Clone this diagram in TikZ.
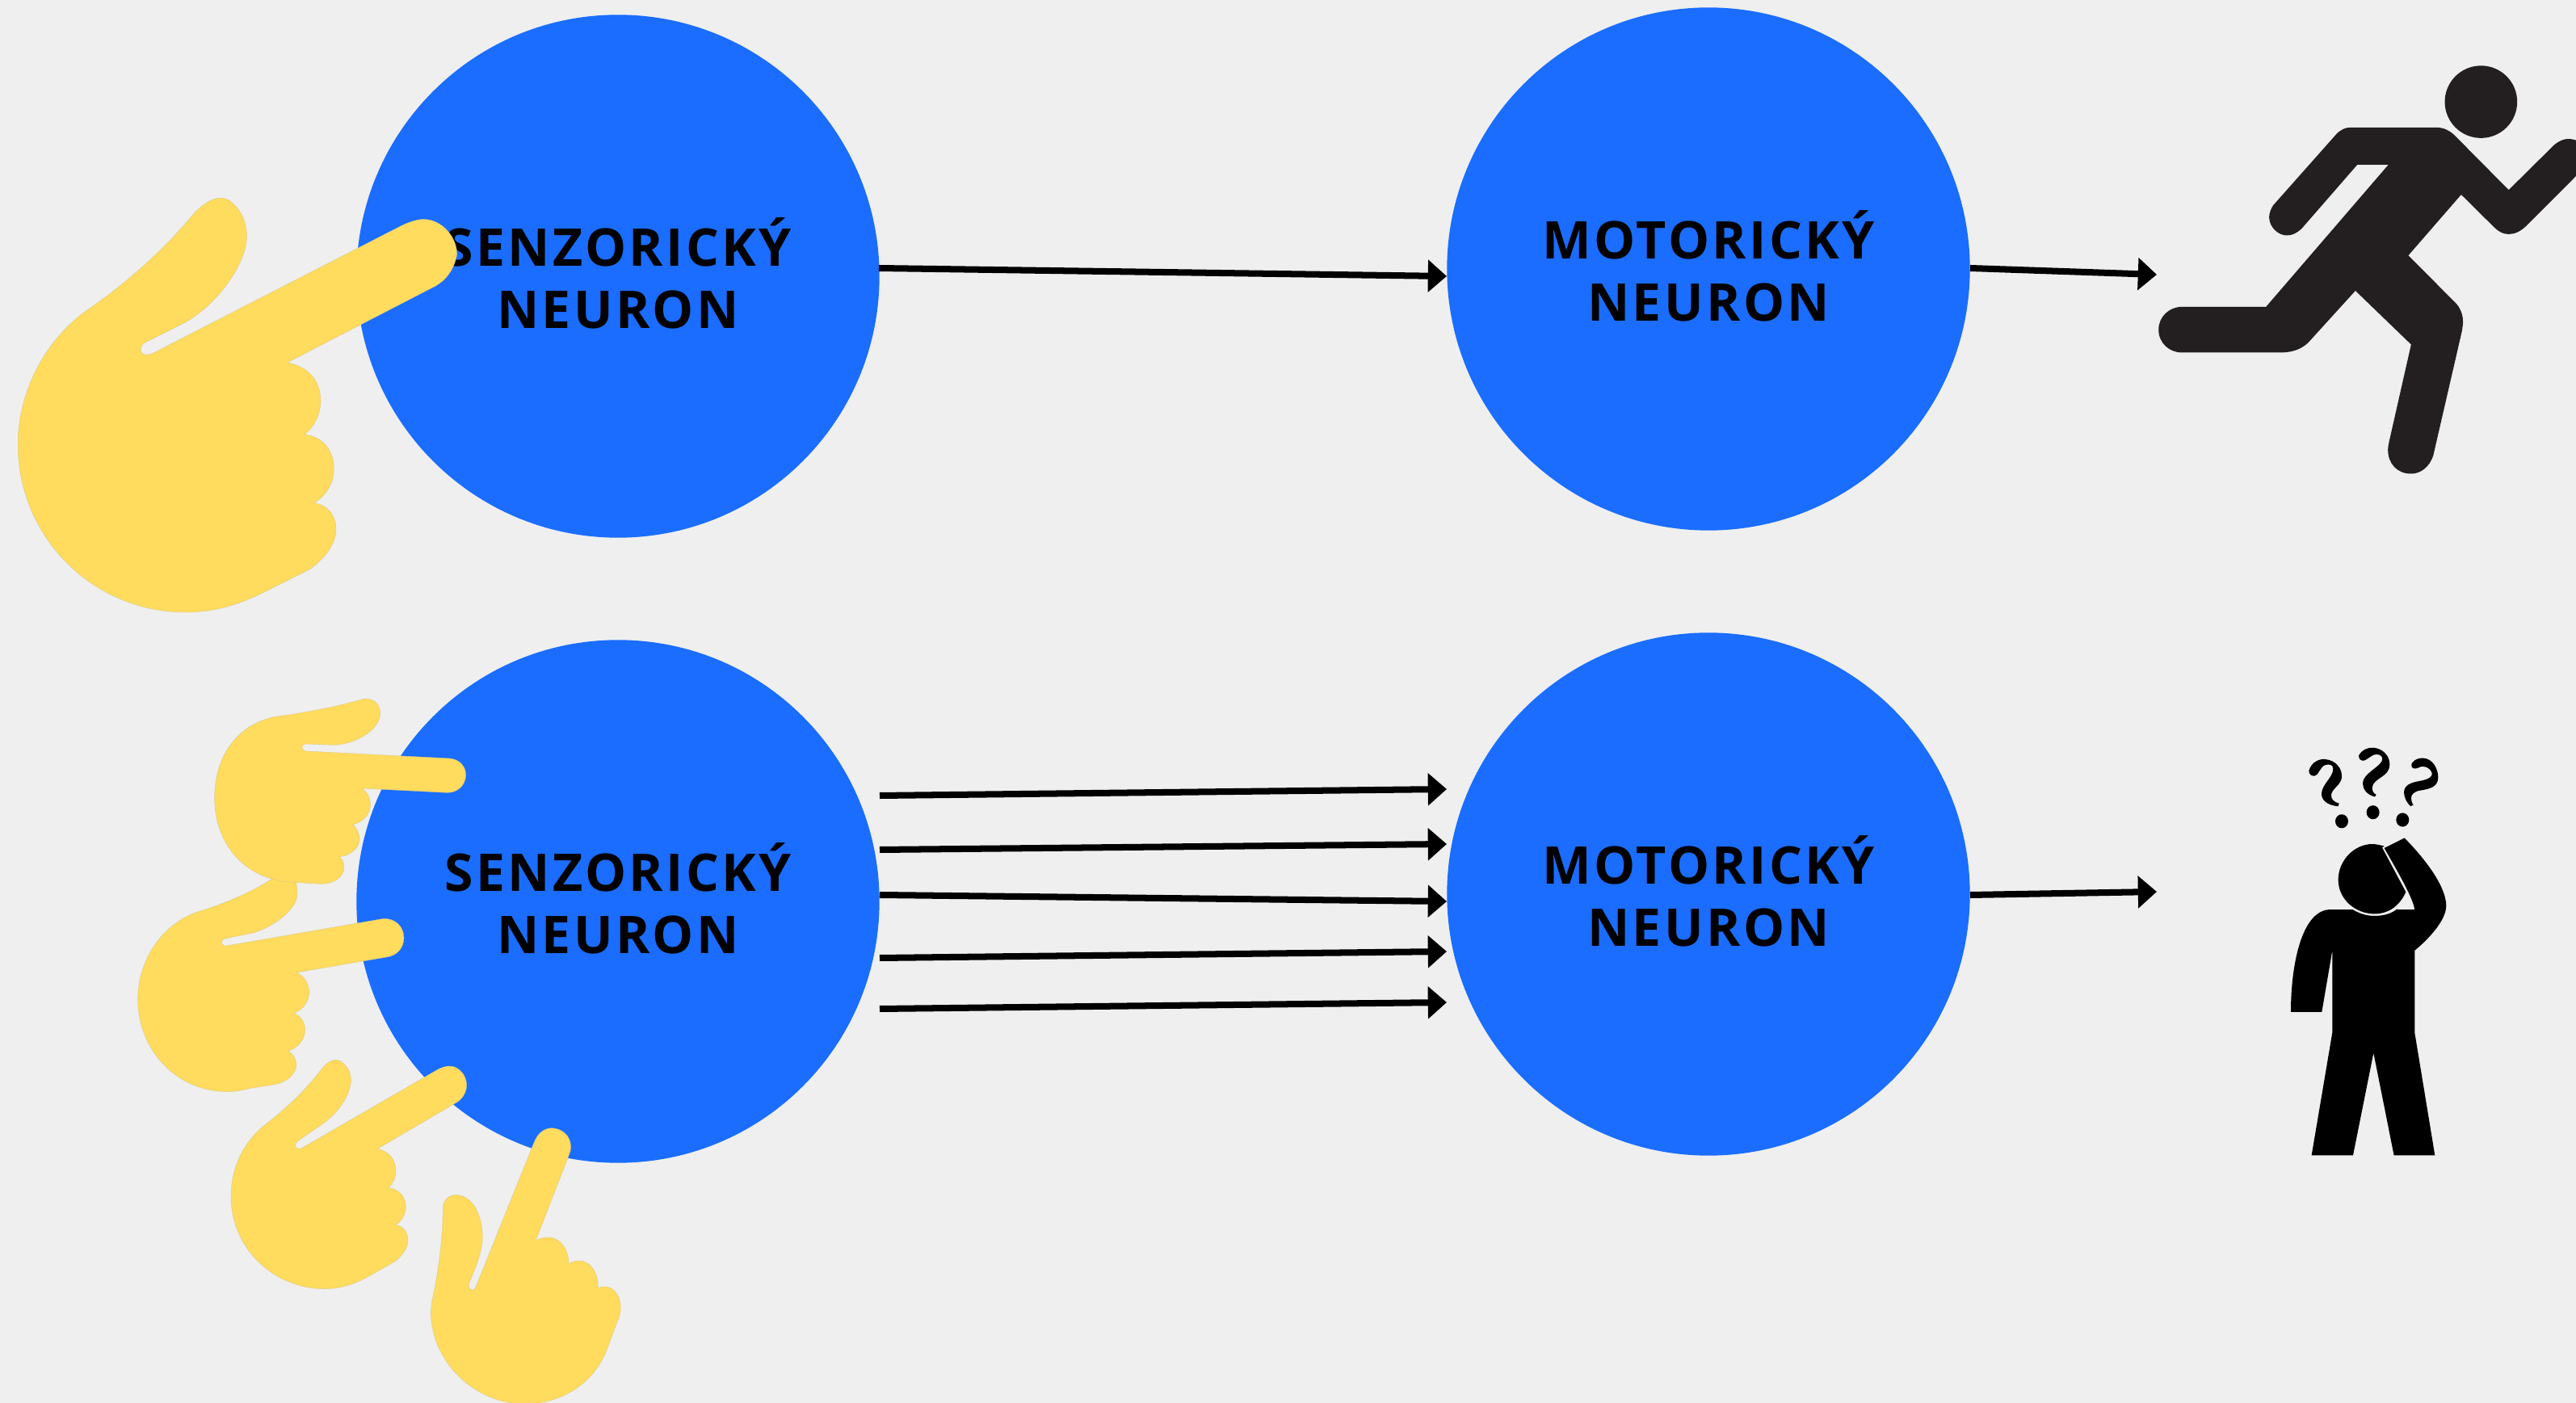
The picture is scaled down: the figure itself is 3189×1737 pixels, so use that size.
\documentclass[tikz,border=0pt]{standalone}
\usepackage{fontspec}
\newfontfamily\lblfont[LetterSpace=5.2]{Open Sans}
\usetikzlibrary{arrows.meta}
\definecolor{bgc}{HTML}{EFEFEF}
\definecolor{bluec}{HTML}{1A6DFF}
\definecolor{handc}{HTML}{FFDB5E}
\definecolor{runc}{HTML}{231F20}
\tikzset{
  neuron/.style={circle,fill=bluec,minimum size=6.47cm,inner sep=0pt},
  neurontext/.style={align=center,text=black,inner sep=0pt,yshift=1.15pt,
    font={\lblfont\bfseries\fontsize{18.3}{21.9}\selectfont}},
  arw/.style={black,line width=2.28pt,-{Triangle[length=6.6pt,width=11.1pt]}},
  handshape/.style={fill=handc,draw=handc!80!black!70,line width=0.1pt},
}
\begin{document}
\begin{tikzpicture}[x=0.01cm,y=-0.01cm]
\useasboundingbox (0,0) rectangle (3189,1737);
\clip (0,0) rectangle (3189,1737);
\fill[bgc] (0,0) rectangle (3189,1737);
% neurons
\node[neuron] (s1) at (765,342) {};
\node[neuron] (m1) at (2115,333) {};
\node[neuron] (s2) at (765,1116) {};
\node[neuron] (m2) at (2115,1107) {};
\node[neurontext] (s1t) at (s1) {SENZORICKÝ\\NEURON};
\node[neurontext] (m1t) at (m1) {MOTORICKÝ\\NEURON};
\node[neurontext] (s2t) at (s2) {SENZORICKÝ\\NEURON};
\node[neurontext] (m2t) at (m2) {MOTORICKÝ\\NEURON};
% arrow ends
\coordinate (t1a) at (1088,332); \coordinate (t1b) at (1791,342);
\coordinate (t2a) at (2439,332); \coordinate (t2b) at (2670,340);
\coordinate (b1a) at (1089,985); \coordinate (b1b) at (1791,977);
\coordinate (b2a) at (1089,1052); \coordinate (b2b) at (1791,1045);
\coordinate (b3a) at (1089,1108); \coordinate (b3b) at (1791,1116);
\coordinate (b4a) at (1089,1186); \coordinate (b4b) at (1791,1178);
\coordinate (b5a) at (1089,1249); \coordinate (b5b) at (1791,1241);
\coordinate (b6a) at (2439,1108); \coordinate (b6b) at (2670,1104);
\foreach \p in {t1,t2,b1,b2,b3,b4,b5,b6}{\draw[arw] (\p a) -- (\p b);}
% hand top
\begin{scope}[shift={(0,200)},scale=0.3827]
\path[handshape] (290,475) .. controls (420,385) and (540,275) .. (630,165)
 .. controls (665,130) and (705,105) .. (740,125)
 .. controls (775,150) and (800,190) .. (798,250)
 .. controls (795,320) and (720,450) .. (600,520) -- (470,585)
 .. controls (445,598) and (450,640) .. (495,620) -- (1300,207)
 .. controls (1325,195) and (1350,187) .. (1370,187)
 .. controls (1430,187) and (1478,245) .. (1478,300)
 .. controls (1470,350) and (1440,385) .. (1410,402) -- (930,650)
 .. controls (1000,665) and (1037,710) .. (1037,775)
 .. controls (1037,820) and (1015,860) .. (985,883)
 .. controls (1045,890) and (1080,935) .. (1080,995)
 .. controls (1080,1045) and (1050,1085) .. (1015,1105)
 .. controls (1060,1110) and (1087,1145) .. (1087,1190)
 .. controls (1087,1240) and (1045,1290) .. (1000,1320) -- (850,1395)
 .. controls (770,1435) and (690,1458) .. (600,1458)
 .. controls (300,1458) and (58,1215) .. (58,915)
 .. controls (58,740) and (150,570) .. (290,475) -- cycle;
\end{scope}
% hands bottom, zoom 4
\begin{scope}[shift={(140,840)},scale=0.3333]
\path[handshape] (320,865) .. controls (420,835) and (520,790) .. (590,745) -- (680,757)
 .. controls (682,770) and (684,785) .. (684,800)
 .. controls (684,860) and (590,925) .. (520,945) -- (420,965)
 .. controls (395,970) and (398,997) .. (422,993) -- (1000,893)
 .. controls (1045,888) and (1080,920) .. (1080,963)
 .. controls (1080,1000) and (1055,1030) .. (1015,1035) -- (682,1092)
 .. controls (710,1105) and (728,1135) .. (728,1165)
 .. controls (728,1200) and (705,1230) .. (672,1243)
 .. controls (698,1255) and (713,1280) .. (713,1305)
 .. controls (713,1340) and (685,1375) .. (650,1383)
 .. controls (670,1395) and (680,1415) .. (680,1435)
 .. controls (680,1470) and (645,1500) .. (600,1508) -- (510,1522)
 .. controls (480,1530) and (450,1535) .. (425,1535)
 .. controls (240,1535) and (92,1385) .. (92,1190)
 .. controls (92,1040) and (190,905) .. (320,865) -- cycle;
\path[handshape] (640,137) .. controls (720,125) and (830,105) .. (915,80)
 .. controls (960,65) and (992,90) .. (992,130)
 .. controls (992,190) and (900,245) .. (820,247) -- (715,243)
 .. controls (695,245) and (698,268) .. (718,270) -- (1250,297)
 .. controls (1285,300) and (1310,325) .. (1310,358)
 .. controls (1310,395) and (1280,425) .. (1240,424) -- (925,408)
 .. controls (945,425) and (956,445) .. (956,468)
 .. controls (956,505) and (925,535) .. (890,543)
 .. controls (905,555) and (915,575) .. (915,595)
 .. controls (915,630) and (880,660) .. (840,662)
 .. controls (850,670) and (858,685) .. (858,700)
 .. controls (858,740) and (815,765) .. (770,763) -- (670,757)
 .. controls (490,750) and (377,615) .. (377,445)
 .. controls (377,270) and (480,150) .. (640,137) -- cycle;
\end{scope}
% hands bottom, zoom 5
\begin{scope}[shift={(260,1290)},scale=0.3333]
\path[handshape] (195,315) .. controls (280,250) and (350,185) .. (415,100)
 .. controls (435,75) and (465,55) .. (490,75)
 .. controls (515,95) and (525,120) .. (523,150)
 .. controls (515,210) and (470,270) .. (410,310) -- (330,365)
 .. controls (305,380) and (320,408) .. (345,392) -- (845,103)
 .. controls (860,95) and (875,90) .. (890,90)
 .. controls (925,90) and (953,125) .. (953,160)
 .. controls (953,190) and (935,215) .. (910,228) -- (622,397)
 .. controls (665,405) and (690,440) .. (690,478)
 .. controls (690,505) and (680,525) .. (662,542)
 .. controls (700,545) and (727,575) .. (727,612)
 .. controls (727,640) and (712,665) .. (690,680)
 .. controls (720,685) and (735,710) .. (735,738)
 .. controls (735,765) and (710,805) .. (670,825) -- (590,870)
 .. controls (540,900) and (480,917) .. (425,917)
 .. controls (235,917) and (78,765) .. (78,575)
 .. controls (78,465) and (125,375) .. (195,315) -- cycle;
\path[handshape] (825,960) .. controls (850,850) and (865,720) .. (865,620)
 .. controls (865,585) and (890,567) .. (915,568)
 .. controls (980,572) and (1012,650) .. (1012,725)
 .. controls (1012,780) and (985,840) .. (963,895)
 .. controls (955,918) and (978,935) .. (988,908) -- (1205,370)
 .. controls (1220,335) and (1245,320) .. (1270,320)
 .. controls (1310,322) and (1340,350) .. (1340,390)
 .. controls (1340,400) and (1338,410) .. (1333,420) -- (1210,737)
 .. controls (1230,728) and (1245,726) .. (1260,726)
 .. controls (1300,728) and (1333,770) .. (1332,825)
 .. controls (1345,815) and (1360,813) .. (1375,813)
 .. controls (1415,815) and (1443,860) .. (1441,915)
 .. controls (1450,910) and (1460,908) .. (1470,909)
 .. controls (1505,912) and (1525,950) .. (1525,985)
 .. controls (1525,1005) and (1520,1025) .. (1512,1040) -- (1475,1140)
 .. controls (1430,1260) and (1320,1341) .. (1170,1345)
 .. controls (985,1345) and (820,1190) .. (820,1000) -- cycle;
\end{scope}
% runner
\begin{scope}[shift={(2640,40)},xscale=0.35014,yscale=0.3827]
\fill[runc] (1232,225) ellipse [x radius=128,y radius=117];
\fill[runc] (175,888) -- (472,888) -- (905,428) -- (795,428) -- (598,635)
 .. controls (580,650) and (565,657) .. (545,657)
 .. controls (515,657) and (483,630) .. (483,598)
 .. controls (483,585) and (490,570) .. (497,560) -- (725,325)
 .. controls (740,315) and (750,308) .. (770,308) -- (1075,308)
 .. controls (1100,308) and (1120,318) .. (1135,330) -- (1330,510) -- (1490,365)
 .. controls (1510,350) and (1525,345) .. (1540,345)
 .. controls (1600,345) and (1640,400) .. (1568,465) -- (1390,628)
 .. controls (1370,645) and (1350,653) .. (1330,653)
 .. controls (1310,653) and (1295,645) .. (1280,632) -- (1162,525) -- (975,722) -- (1145,878)
 .. controls (1160,895) and (1170,915) .. (1168,945) -- (1165,965) -- (1063,1370)
 .. controls (1050,1405) and (1020,1428) .. (985,1428)
 .. controls (935,1428) and (903,1395) .. (903,1350)
 .. controls (903,1340) and (905,1335) .. (907,1325) -- (985,1010) -- (788,836) -- (620,1005)
 .. controls (590,1030) and (555,1036) .. (520,1036) -- (175,1036)
 .. controls (130,1036) and (92,1005) .. (92,962)
 .. controls (92,920) and (130,888) .. (175,888) -- cycle;
\end{scope}
% confused person
\begin{scope}[shift={(2750,900)},xscale=0.3333,yscale=0.35714]
\fill[black] (597,418) -- (685,572) .. controls (660,625) and (615,648) .. (570,648)
 .. controls (495,648) and (434,595) .. (434,530)
 .. controls (434,462) and (495,406) .. (560,406)
 .. controls (575,406) and (590,410) .. (605,413) -- cycle;
\fill[black] (405,633) -- (487,633) .. controls (515,648) and (540,655) .. (570,655)
 .. controls (600,655) and (630,648) .. (650,633) -- (718,633)
 .. controls (710,590) and (660,510) .. (605,420) -- (680,385)
 .. controls (770,470) and (835,560) .. (835,620)
 .. controls (835,670) and (770,735) .. (718,775) -- (718,1060) -- (793,1485) -- (641,1485)
 -- (565,1130) -- (489,1485) -- (335,1485) -- (412,1060) -- (412,775) -- (373,988) -- (258,988)
 .. controls (258,820) and (300,633) .. (405,633) -- cycle;
\fill[black] (447,327) ellipse [x radius=24,y radius=24];
\fill[black] (563,296) ellipse [x radius=24,y radius=24];
\fill[black] (673,322) ellipse [x radius=24,y radius=24];
\fill[black] (325,152) .. controls (335,120) and (365,110) .. (385,112)
 .. controls (425,115) and (450,145) .. (447,175)
 .. controls (445,200) and (410,215) .. (408,235)
 .. controls (406,250) and (420,262) .. (437,265) -- (434,275)
 .. controls (395,272) and (372,255) .. (372,232)
 .. controls (372,200) and (415,175) .. (415,145)
 .. controls (415,130) and (400,128) .. (385,132)
 .. controls (365,140) and (360,170) .. (345,170)
 .. controls (335,170) and (325,165) .. (325,152) -- cycle;
\fill[black] (510,100) .. controls (520,80) and (545,70) .. (565,72)
 .. controls (600,75) and (625,100) .. (625,130)
 .. controls (625,175) and (565,175) .. (560,210)
 .. controls (560,222) and (565,230) .. (575,235) -- (570,242)
 .. controls (540,235) and (525,215) .. (525,195)
 .. controls (525,160) and (600,135) .. (598,110)
 .. controls (598,97) and (580,92) .. (565,97)
 .. controls (548,105) and (535,118) .. (525,117)
 .. controls (515,115) and (508,108) .. (510,100) -- cycle;
\fill[black] (708,125) .. controls (720,110) and (735,108) .. (750,108)
 .. controls (785,110) and (805,145) .. (805,175)
 .. controls (805,210) and (770,215) .. (740,220)
 .. controls (715,223) and (705,235) .. (705,245)
 .. controls (705,255) and (708,265) .. (713,270) -- (703,275)
 .. controls (690,265) and (678,245) .. (678,225)
 .. controls (680,195) and (720,190) .. (750,185)
 .. controls (770,180) and (785,172) .. (782,160)
 .. controls (775,140) and (755,135) .. (740,138)
 .. controls (725,145) and (715,147) .. (708,140)
 .. controls (705,135) and (705,130) .. (708,125) -- cycle;
\end{scope}
\end{tikzpicture}
\end{document}
